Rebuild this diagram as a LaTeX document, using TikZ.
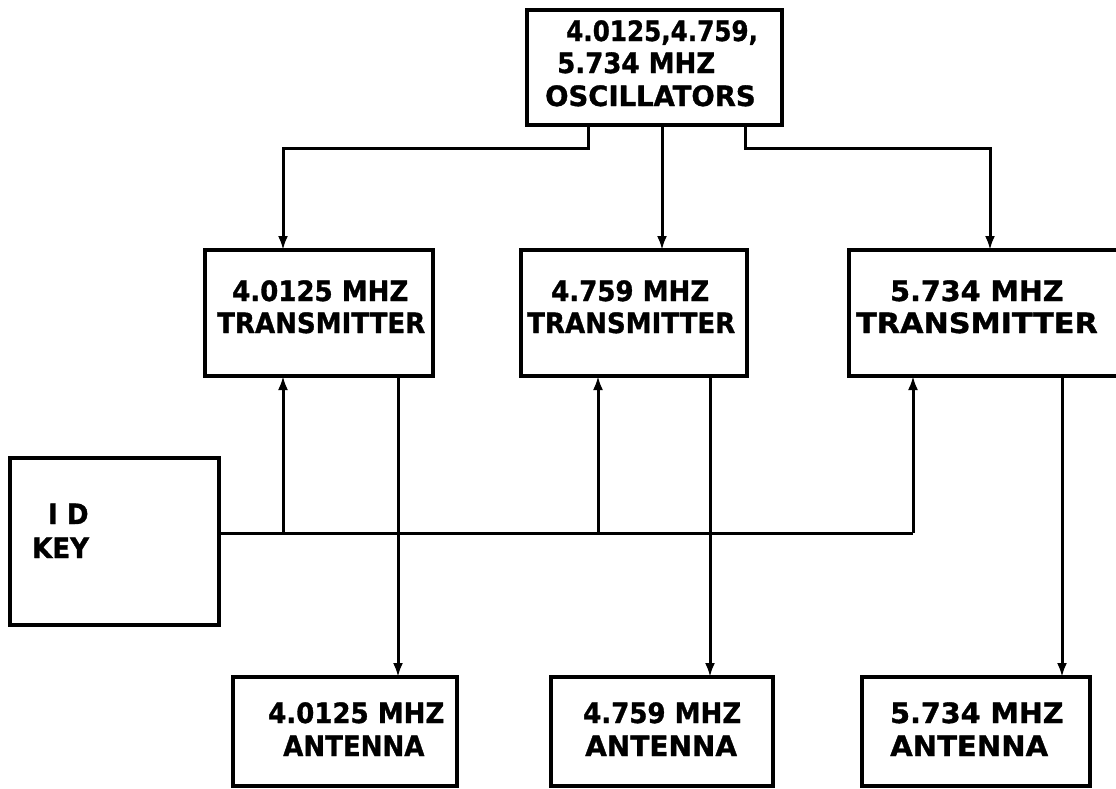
\documentclass[tikz,border=0pt]{standalone}
\usepackage{fontspec}
\setmainfont{DejaVu Sans}[BoldFeatures={FakeBold=1.2}]
\usetikzlibrary{arrows.meta}
\newcommand\sx[2]{\scalebox{#1}[1]{#2}}
\begin{document}
\begin{tikzpicture}[x=1pt,y=-1pt,
  blk/.style={draw,line width=3.6pt,inner sep=0pt,outer sep=0pt},
  lbl/.style={anchor=base west,inner sep=0pt,font=\bfseries\fontsize{28}{32}\selectfont},
  wire/.style={line width=3pt},
  arr/.style={wire,-{Latex[length=14pt,width=10pt]}}]
\clip (0,0) rectangle (1116,788);
\fill[white] (0,0) rectangle (1116,788);
% boxes
\node[blk,minimum width=255pt,minimum height=115pt] (osc) at (654.5,67.5) {};
\node[blk,minimum width=228pt,minimum height=126pt] (txA) at (319,313) {};
\node[blk,minimum width=226pt,minimum height=126pt] (txB) at (634,313) {};
\node[blk,minimum width=276pt,minimum height=126pt] (txC) at (987,313) {};
\node[blk,minimum width=209pt,minimum height=167pt] (idkey) at (114.5,541.5) {};
\node[blk,minimum width=224pt,minimum height=109pt] (antA) at (345,731.5) {};
\node[blk,minimum width=222pt,minimum height=109pt] (antB) at (662,731.5) {};
\node[blk,minimum width=228pt,minimum height=109pt] (antC) at (976,731.5) {};
% labels
\node[lbl] (o1) at (566,41) {\sx{0.88}{4.0125,4.759,}};
\node[lbl] (o2) at (557,73) {\sx{0.93}{5.734 MHZ}};
\node[lbl] (o3) at (545,106) {\sx{0.98}{OSCILLATORS}};
\node[lbl] (ta1) at (232,301) {\sx{0.93}{4.0125 MHZ}};
\node[lbl] (ta2) at (217,333) {\sx{0.93}{TRANSMITTER}};
\node[lbl] (tb1) at (551,301) {\sx{0.93}{4.759 MHZ}};
\node[lbl] (tb2) at (527,333) {\sx{0.93}{TRANSMITTER}};
\node[lbl] (tc1) at (890,301) {\sx{1.02}{5.734 MHZ}};
\node[lbl] (tc2) at (856,333) {\sx{1.08}{TRANSMITTER}};
\node[lbl] (k1) at (48,524) {\sx{0.93}{I D}};
\node[lbl] (k2) at (32,558) {\sx{0.93}{KEY}};
\node[lbl] (aa1) at (268,723) {\sx{0.93}{4.0125 MHZ}};
\node[lbl] (aa2) at (283,756) {\sx{0.93}{ANTENNA}};
\node[lbl] (ab1) at (583,723) {\sx{0.93}{4.759 MHZ}};
\node[lbl] (ab2) at (585,756) {\sx{1.0}{ANTENNA}};
\node[lbl] (ac1) at (890,723) {\sx{1.02}{5.734 MHZ}};
\node[lbl] (ac2) at (890,756) {\sx{1.04}{ANTENNA}};
% helper coordinates
\coordinate (oA) at (588,0);
\coordinate (oB) at (662,0);
\coordinate (oC) at (745,0);
\coordinate (bA) at (283,148);
\coordinate (bC) at (990,148);
\coordinate (uA) at (283,533);
\coordinate (uB) at (598,533);
\coordinate (uC) at (913,533);
\coordinate (dA) at (398,0);
\coordinate (dB) at (710,0);
\coordinate (dC) at (1062,0);
% oscillator feeds
\draw[arr] (osc.south -| oA) |- (bA) -- (txA.north -| bA);
\draw[arr] (osc.south -| oB) -- (txB.north -| oB);
\draw[arr] (osc.south -| oC) |- (bC) -- (txC.north -| bC);
% ID key bus
\draw[wire] (idkey.east |- uA) -- (uC);
\draw[arr] (uA) -- (txA.south -| uA);
\draw[arr] (uB) -- (txB.south -| uB);
\draw[arr] (uC) -- (txC.south -| uC);
% transmitter to antenna
\draw[arr] (txA.south -| dA) -- (antA.north -| dA);
\draw[arr] (txB.south -| dB) -- (antB.north -| dB);
\draw[arr] (txC.south -| dC) -- (antC.north -| dC);
\end{tikzpicture}
\end{document}
